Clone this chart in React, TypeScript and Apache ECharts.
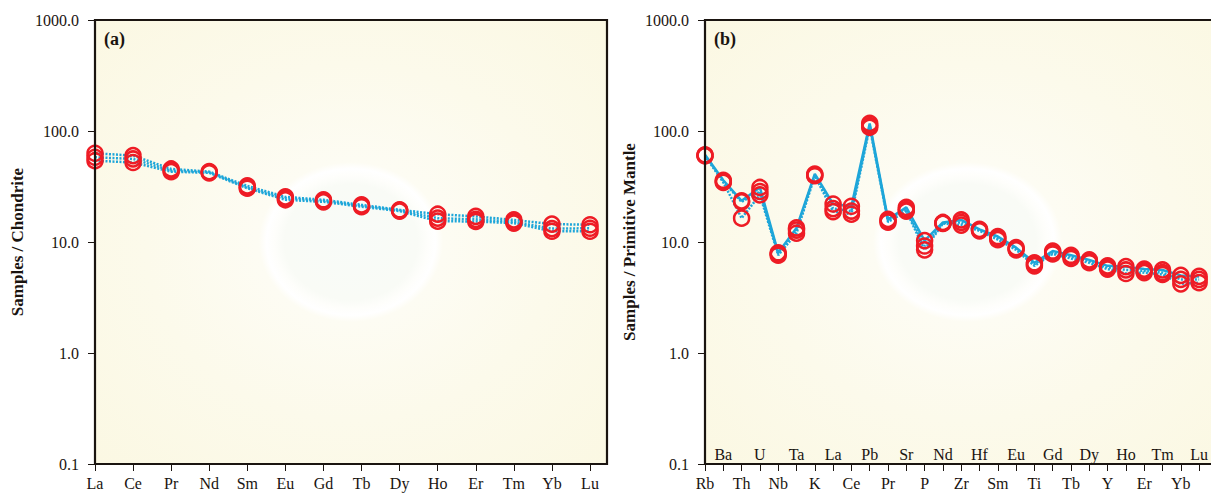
import React, { useEffect, useRef } from "react";
import * as echarts from "echarts";

const leftCats = ["La", "Ce", "Pr", "Nd", "Sm", "Eu", "Gd", "Tb", "Dy", "Ho", "Er", "Tm", "Yb", "Lu"];
const leftA = [63, 60, 45.5, 43, 32, 25.5, 24, 21.6, 19.5, 17.8, 17, 15.8, 14.5, 14.3];
const leftB = [58, 56, 44, 42.5, 31, 24.8, 23.5, 21.2, 19.3, 16.4, 16, 15.2, 13.2, 13.3];
const leftC = [54, 52, 43, 42, 30.5, 24, 23, 20.8, 19, 15.4, 15.3, 14.8, 12.5, 12.5];

const rightCats = ["Rb", "Ba", "Th", "U", "Nb", "Ta", "K", "La", "Ce", "Pb", "Pr", "Sr", "P", "Nd", "Zr", "Hf", "Sm", "Eu", "Ti", "Gd", "Tb", "Dy", "Y", "Ho", "Er", "Tm", "Yb", "Lu"];
const rightA = [61, 36, 23.5, 31, 8.0, 13.4, 41, 22, 21, 117, 16, 20.5, 10.3, 15, 15.8, 13, 11.2, 8.9, 6.5, 8.3, 7.6, 6.9, 6.1, 6.0, 5.7, 5.6, 5.0, 4.9];
const rightB = [60, 35, 23, 28.5, 7.8, 12.8, 40, 20, 19, 112, 15.5, 19.6, 9.2, 14.8, 15, 12.8, 10.8, 8.7, 6.3, 8.0, 7.4, 6.7, 5.9, 5.6, 5.5, 5.3, 4.6, 4.6];
const rightC = [60, 34.5, 16.4, 26.6, 7.6, 12.0, 39.5, 18.8, 17.8, 108, 15.1, 19, 8.5, 14.7, 14.2, 12.6, 10.5, 8.5, 6.1, 7.8, 7.1, 6.5, 5.7, 5.2, 5.3, 5.1, 4.2, 4.3];

const FONT = "Liberation Serif";
const INK = "#1a1410";
const LINE = "#1ea6d9";
const RED = "#ee1c25";

function bgFill() {
  return new echarts.graphic.RadialGradient(0.5, 0.5, 1, [
    { offset: 0, color: "#f8fbf8" },
    { offset: 0.13, color: "#f9fbf6" },
    { offset: 0.15, color: "#fefefb" },
    { offset: 0.165, color: "#ffffff" },
    { offset: 0.18, color: "#fdfcf3" },
    { offset: 0.4, color: "#fcfaeb" },
    { offset: 0.7, color: "#fbf8e3" },
    { offset: 1, color: "#faf6dd" },
  ]);
}

export default function App() {
  const ref = useRef<HTMLDivElement>(null);
  useEffect(() => {
    if (!ref.current) return;
    const chart = echarts.init(ref.current, null, { renderer: "svg" });
    const yAxisBase = (gridIndex: number, name: string, gap: number) => ({
      type: "log",
      gridIndex,
      logBase: 10,
      min: 0.1,
      max: 1000,
      name,
      nameLocation: "middle",
      nameGap: gap,
      nameTextStyle: { fontFamily: FONT, fontWeight: "bold", fontSize: 17, color: INK },
      axisLine: { show: true, lineStyle: { color: INK, width: 2 } },
      axisTick: { show: true, length: 7, lineStyle: { color: INK, width: 1 } },
      minorTick: { show: false },
      splitLine: { show: false },
      axisLabel: {
        fontFamily: FONT,
        fontSize: 16,
        color: INK,
        margin: 16,
        formatter: (v: number) => Number(v).toFixed(1),
      },
    });
    const lineSeries = (
      name: string,
      data: number[],
      xi: number,
      yi: number,
      solid: boolean
    ) => ({
      name,
      type: "line",
      xAxisIndex: xi,
      yAxisIndex: yi,
      data,
      symbol: "circle",
      symbolSize: 15,
      showAllSymbol: true,
      lineStyle: { color: LINE, width: 2.5, type: solid ? "solid" : [2, 1.5] },
      itemStyle: { color: "rgba(0,0,0,0)", borderColor: RED, borderWidth: 2.5 },
      emphasis: { disabled: true },
      z: 3,
    });
    const xLabel = { fontFamily: FONT, fontSize: 16, color: INK };
    chart.setOption({
      animation: false,
      backgroundColor: "#ffffff",
      grid: [
        { left: 95, top: 20, width: 495, height: 444 },
        { left: 705, top: 20, width: 500, height: 444 },
      ],
      xAxis: [
        {
          type: "category",
          gridIndex: 0,
          data: leftCats,
          boundaryGap: false,
          axisLine: { show: true, lineStyle: { color: INK, width: 2 } },
          axisTick: { show: true, interval: 0, length: 7, lineStyle: { color: INK } },
          axisLabel: { ...xLabel, interval: 0, margin: 11 },
          splitLine: { show: false },
        },
        {
          type: "category",
          gridIndex: 1,
          data: rightCats,
          boundaryGap: false,
          axisLine: { show: true, lineStyle: { color: INK, width: 2 } },
          axisTick: { show: true, interval: 0, length: 7, lineStyle: { color: INK } },
          axisLabel: { ...xLabel, interval: (i: number) => i % 2 === 0, margin: 11 },
          splitLine: { show: false },
        },
        {
          type: "category",
          gridIndex: 1,
          data: rightCats,
          boundaryGap: false,
          position: "bottom",
          axisLine: { show: false },
          axisTick: { show: false },
          axisLabel: { ...xLabel, inside: true, interval: (i: number) => i % 2 === 1, margin: 2 },
          splitLine: { show: false },
        },
      ],
      yAxis: [
        yAxisBase(0, "Samples / Chondrite", 69),
        yAxisBase(1, "Samples / Primitive Mantle", 67),
      ],
      graphic: [
        {
          type: "rect",
          z: -10,
          shape: { x: 95, y: 20, width: 512, height: 444 },
          style: { fill: bgFill() },
          silent: true,
        },
        {
          type: "rect",
          z: -10,
          shape: { x: 705, y: 20, width: 525, height: 444 },
          style: { fill: bgFill() },
          silent: true,
        },
        {
          type: "rect",
          z: 50,
          shape: { x: 95, y: 20, width: 512, height: 444 },
          style: { fill: "none", stroke: INK, lineWidth: 2.2 },
          silent: true,
        },
        {
          type: "rect",
          z: 50,
          shape: { x: 705, y: 20, width: 525, height: 444 },
          style: { fill: "none", stroke: INK, lineWidth: 2.2 },
          silent: true,
        },
        {
          type: "text",
          z: 50,
          x: 104,
          y: 30,
          style: { text: "(a)", font: `bold 18px "${FONT}"`, fill: INK },
        },
        {
          type: "text",
          z: 50,
          x: 714,
          y: 30,
          style: { text: "(b)", font: `bold 18px "${FONT}"`, fill: INK },
        },
      ],
      series: [
        lineSeries("L1", leftA, 0, 0, false),
        lineSeries("L2", leftB, 0, 0, false),
        lineSeries("L3", leftC, 0, 0, false),
        lineSeries("R1", rightA, 1, 1, true),
        lineSeries("R2", rightB, 1, 1, false),
        lineSeries("R3", rightC, 1, 1, false),
      ],
    });
    return () => chart.dispose();
  }, []);
  return (
    <div
      ref={ref}
      style={{ position: "absolute", left: 0, top: 0, width: 1211, height: 493 }}
    />
  );
}
